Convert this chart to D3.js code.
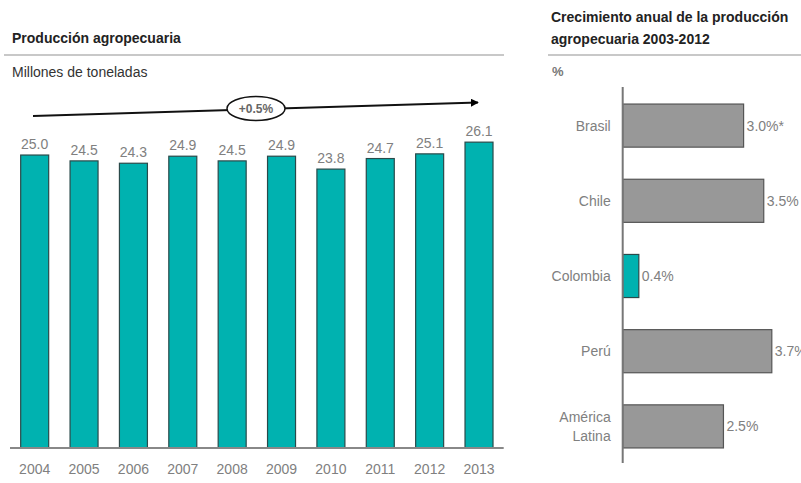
<!DOCTYPE html>
<html>
<head>
<meta charset="utf-8">
<script src="https://cdn.jsdelivr.net/npm/d3@7/dist/d3.min.js"></script>
<style>
  html, body { margin: 0; padding: 0; background: #fff; }
  svg { display: block; font-family: "Liberation Sans", Arial, sans-serif; }
</style>
</head>
<body>
<svg id="chart" width="801" height="483"></svg>
<script>
// Left chart data
const years = ["2004","2005","2006","2007","2008","2009","2010","2011","2012","2013"];
const production = [25.0, 24.5, 24.3, 24.9, 24.5, 24.9, 23.8, 24.7, 25.1, 26.1];
const trendLabel = "+0.5%";

// Right chart data
const countries = ["Brasil", "Chile", "Colombia", "Perú", "América Latina"];
const growth = [3.0, 3.5, 0.4, 3.7, 2.5];
const growthLabels = ["3.0%*", "3.5%", "0.4%", "3.7%", "2.5%"];
const highlight = ["Colombia"];

const svg = d3.select("#chart");
const teal = "#00b2b0";
const grayBar = "#989898";
const textGray = "#808080";

// ---------- Left chart ----------
svg.append("text").attr("x", 12).attr("y", 43)
  .attr("font-size", 14).attr("font-weight", "bold").attr("fill", "#222")
  .text("Producción agropecuaria");
svg.append("line").attr("x1", 4).attr("x2", 504).attr("y1", 55).attr("y2", 55)
  .attr("stroke", "#c8c8c8").attr("stroke-width", 2);
svg.append("text").attr("x", 12).attr("y", 77)
  .attr("font-size", 14).attr("fill", "#333")
  .text("Millones de toneladas");

const x = d3.scaleBand().domain(years).range([10, 503.7]).paddingInner(0.433).paddingOuter(0.2165);
const y = d3.scaleLinear().domain([0, 27]).range([448, 131.6]);

const gL = svg.append("g");
gL.selectAll("rect").data(production).join("rect")
  .attr("x", (d, i) => x(years[i]))
  .attr("y", d => y(d))
  .attr("width", x.bandwidth())
  .attr("height", d => y(0) - y(d))
  .attr("fill", teal).attr("stroke", "#2a4a4a").attr("stroke-width", 1.2);

gL.selectAll("text.val").data(production).join("text").attr("class", "val")
  .attr("x", (d, i) => x(years[i]) + x.bandwidth() / 2)
  .attr("y", d => y(d) - 6)
  .attr("text-anchor", "middle").attr("font-size", 14).attr("fill", textGray)
  .text(d => d.toFixed(1));

const xAxis = svg.append("g").attr("transform", "translate(0,448)")
  .call(d3.axisBottom(x).tickSize(0).tickPadding(16));
xAxis.select(".domain").attr("stroke", "#888").attr("stroke-width", 2).attr("d", "M10,0H503.7");
xAxis.selectAll("text").attr("font-size", 14).attr("fill", textGray)
  .attr("font-family", "Liberation Sans, Arial, sans-serif");

// trend arrow
svg.append("defs").append("marker").attr("id", "arrow")
  .attr("viewBox", "0 0 10 10").attr("refX", 9).attr("refY", 5)
  .attr("markerWidth", 4).attr("markerHeight", 4).attr("orient", "auto")
  .append("path").attr("d", "M0,0L10,5L0,10z").attr("fill", "#000");
svg.append("line").attr("x1", 33).attr("y1", 116).attr("x2", 478).attr("y2", 102.5)
  .attr("stroke", "#111").attr("stroke-width", 2).attr("marker-end", "url(#arrow)");
svg.append("ellipse").attr("cx", 256).attr("cy", 108.5).attr("rx", 29).attr("ry", 12)
  .attr("fill", "#fff").attr("stroke", "#111").attr("stroke-width", 1.5);
svg.append("text").attr("x", 256).attr("y", 113)
  .attr("text-anchor", "middle").attr("font-size", 12).attr("font-weight", "bold").attr("fill", "#666")
  .text(trendLabel);

// ---------- Right chart ----------
svg.append("text").attr("x", 551).attr("y", 22)
  .attr("font-size", 14).attr("font-weight", "bold").attr("fill", "#222")
  .text("Crecimiento anual de la producción");
svg.append("text").attr("x", 551).attr("y", 44)
  .attr("font-size", 14).attr("font-weight", "bold").attr("fill", "#222")
  .text("agropecuaria 2003-2012");
svg.append("line").attr("x1", 548).attr("x2", 801).attr("y1", 55).attr("y2", 55)
  .attr("stroke", "#c8c8c8").attr("stroke-width", 2);
svg.append("text").attr("x", 552).attr("y", 76)
  .attr("font-size", 13).attr("font-weight", "bold").attr("fill", "#777")
  .text("%");

const xr = d3.scaleLinear().domain([0, 4]).range([622.7, 783.9]);
const yr = d3.scaleBand().domain(countries).range([88, 464]).paddingInner(0.427).paddingOuter(0.2135);

const gR = svg.append("g");
gR.selectAll("rect").data(growth).join("rect")
  .attr("x", xr(0))
  .attr("y", (d, i) => yr(countries[i]))
  .attr("width", d => xr(d) - xr(0))
  .attr("height", yr.bandwidth())
  .attr("fill", (d, i) => highlight.includes(countries[i]) ? teal : grayBar)
  .attr("stroke", (d, i) => highlight.includes(countries[i]) ? "#2a4a4a" : "#555")
  .attr("stroke-width", 1.2);

gR.selectAll("text.val").data(growth).join("text").attr("class", "val")
  .attr("x", d => xr(d) + 3)
  .attr("y", (d, i) => yr(countries[i]) + yr.bandwidth() / 2 + 5)
  .attr("font-size", 14).attr("fill", textGray)
  .text((d, i) => growthLabels[i]);

const yAxis = svg.append("g").attr("transform", `translate(${xr(0)},0)`)
  .call(d3.axisLeft(yr).tickSize(0).tickPadding(12).tickFormat(() => ""));
yAxis.select(".domain").attr("stroke", "#777").attr("stroke-width", 2).attr("d", "M0,87V463");

yAxis.selectAll(".tick").each(function(d) {
  const t = d3.select(this).select("text");
  t.attr("font-size", 14).attr("fill", textGray).attr("font-family", "Liberation Sans, Arial, sans-serif")
    .attr("dy", null);
  const words = d.split(" ");
  const lh = 19.5;
  words.forEach((w, k) => {
    t.append("tspan").attr("x", -12)
      .attr("y", (k - (words.length - 1) / 2) * lh + 5)
      .text(w);
  });
});
</script>
</body>
</html>
